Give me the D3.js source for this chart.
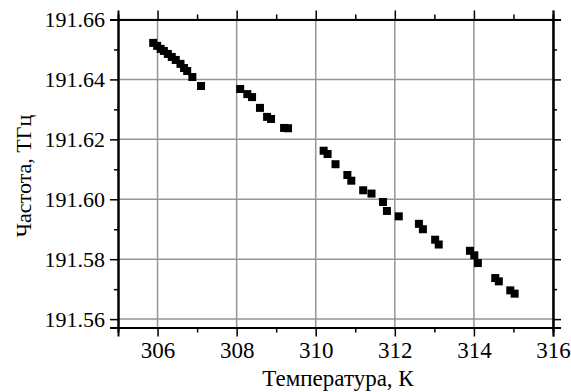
<!DOCTYPE html>
<html>
<head>
<meta charset="utf-8">
<script src="https://cdn.jsdelivr.net/npm/d3@7"></script>
<style>
  body { margin: 0; background: #fff; }
</style>
</head>
<body>
<svg width="571" height="392"></svg>
<script>
// Measured points: temperature (K) and frequency (THz)
var temperature = [305.89, 305.99, 306.08, 306.16, 306.26, 306.36, 306.46, 306.58, 306.67, 306.75, 306.88, 307.10,
                   308.09, 308.27, 308.39, 308.59, 308.77, 308.87, 309.20, 309.30,
                   310.20, 310.30, 310.50, 310.80, 310.90, 311.20, 311.41, 311.70, 311.80, 312.10,
                   312.61, 312.71, 313.02, 313.11, 313.90, 314.01, 314.10, 314.54, 314.63, 314.92, 315.03];
var frequency = [191.6522, 191.6512, 191.6502, 191.6495, 191.6485, 191.6475, 191.6465, 191.6452, 191.6438, 191.6428, 191.6408, 191.6378,
                 191.6368, 191.6351, 191.6341, 191.6305, 191.6275, 191.6268, 191.6238, 191.6237,
                 191.6162, 191.6151, 191.6117, 191.6081, 191.6062, 191.6030, 191.6019, 191.5991, 191.5961, 191.5943,
                 191.5918, 191.5900, 191.5865, 191.5849, 191.5828, 191.5813, 191.5787, 191.5737, 191.5726, 191.5696, 191.5685];

var xTicks = [306, 308, 310, 312, 314, 316];
var xMinor = [307, 309, 311, 313, 315];
var yTicks = [191.56, 191.58, 191.60, 191.62, 191.64, 191.66];
var yMinor = [191.57, 191.59, 191.61, 191.63, 191.65];

var xTitle = "Температура, К";
var yTitle = "Частота, ТГц";

var serif = '"Liberation Serif", "Times New Roman", serif';

var svg = d3.select("svg");
var mLeft = 118, mRight = 553, mTop = 19.5, mBottom = 327.5;

var x = d3.scaleLinear().domain([305, 316]).range([mLeft, mRight]);
var y = d3.scaleLinear().domain([191.5572, 191.66]).range([mBottom, mTop]);

// grid
var grid = svg.append("g").attr("stroke", "#959595").attr("stroke-width", 1.5);
grid.selectAll(".gx").data(xTicks).enter().append("line")
    .attr("x1", d => x(d)).attr("x2", d => x(d))
    .attr("y1", mTop).attr("y2", mBottom);
grid.selectAll(".gy").data(yTicks).enter().append("line")
    .attr("x1", mLeft).attr("x2", mRight)
    .attr("y1", d => y(d)).attr("y2", d => y(d));

// axes
function styleAxis(g) {
    g.attr("font-family", serif);
    g.select(".domain").attr("stroke-width", 2);
    g.selectAll(".tick line").attr("stroke-width", 1.5);
}

var fontX = 23, fontY = 22;

svg.append("g").attr("transform", "translate(0," + mBottom + ")")
    .call(d3.axisBottom(x).tickValues(xMinor).tickSize(5).tickFormat(""))
    .call(styleAxis);
svg.append("g").attr("transform", "translate(0," + mBottom + ")")
    .call(d3.axisBottom(x).tickValues(xTicks).tickSize(9).tickPadding(5).tickFormat(d3.format("d")))
    .call(styleAxis)
    .selectAll("text").style("font-size", fontX + "px").style("font-family", serif);

svg.append("g").attr("transform", "translate(0," + mTop + ")")
    .call(d3.axisTop(x).tickValues(xMinor).tickSize(5).tickFormat(""))
    .call(styleAxis);
svg.append("g").attr("transform", "translate(0," + mTop + ")")
    .call(d3.axisTop(x).tickValues(xTicks).tickSize(9).tickFormat(""))
    .call(styleAxis);

svg.append("g").attr("transform", "translate(" + mLeft + ",0)")
    .call(d3.axisLeft(y).tickValues(yMinor).tickSize(4).tickFormat(""))
    .call(styleAxis);
svg.append("g").attr("transform", "translate(" + mLeft + ",0)")
    .call(d3.axisLeft(y).tickValues(yTicks).tickSize(8).tickPadding(5).tickFormat(d3.format(".2f")))
    .call(styleAxis)
    .selectAll("text").style("font-size", fontY + "px").style("font-family", serif);

svg.append("g").attr("transform", "translate(" + mRight + ",0)")
    .call(d3.axisRight(y).tickValues(yMinor).tickSize(4).tickFormat(""))
    .call(styleAxis);
svg.append("g").attr("transform", "translate(" + mRight + ",0)")
    .call(d3.axisRight(y).tickValues(yTicks).tickSize(8).tickFormat(""))
    .call(styleAxis);

// points
var pts = temperature.map((t, i) => ({t: t, f: frequency[i]}));
var s = 8;
svg.append("g").selectAll("rect").data(pts).enter().append("rect")
    .attr("x", d => x(d.t) - s / 2)
    .attr("y", d => y(d.f) - s / 2)
    .attr("width", s).attr("height", s)
    .attr("fill", "#000");

// titles
svg.append("text")
    .attr("x", 338).attr("y", 386)
    .attr("text-anchor", "middle")
    .style("font-family", serif)
    .style("font-size", "23px")
    .text(xTitle);

svg.append("text")
    .attr("transform", "translate(31,176) rotate(-90)")
    .attr("text-anchor", "middle")
    .style("font-family", serif)
    .style("font-size", "22px")
    .text(yTitle);
</script>
</body>
</html>
